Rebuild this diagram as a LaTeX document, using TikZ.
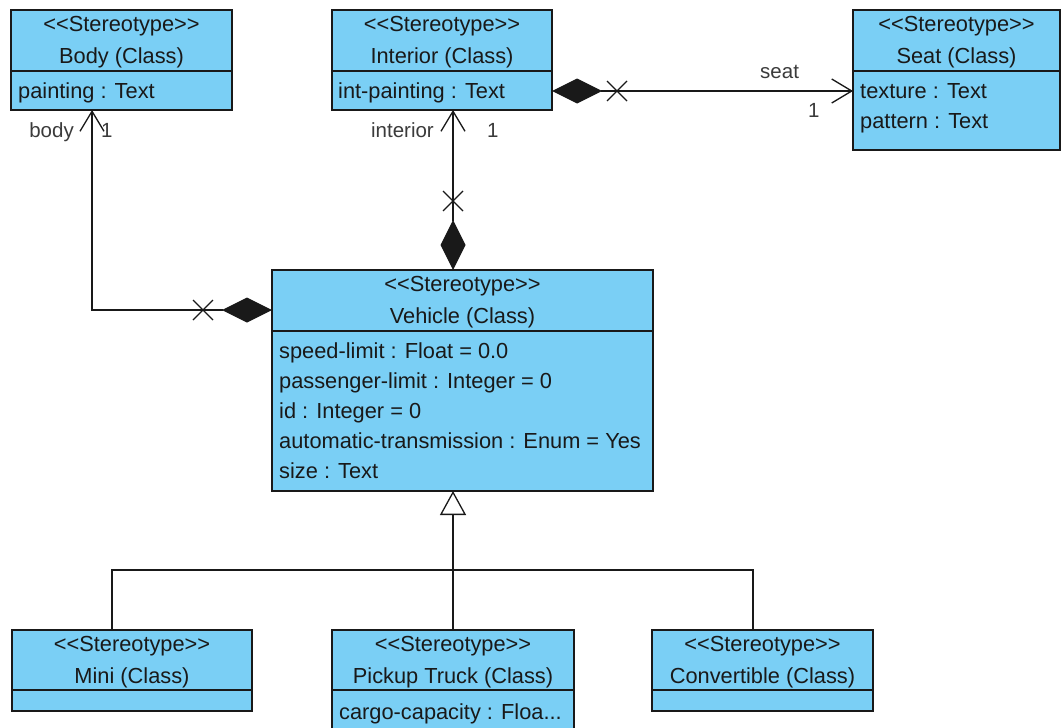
\documentclass[tikz,border=0pt]{standalone}
\usepackage{fontspec}
\setmainfont{Liberation Sans}
\usetikzlibrary{arrows.meta,calc}
\definecolor{cls}{RGB}{122,207,245}
\definecolor{ink}{RGB}{25,25,25}
\newcommand\stereo{<\kern0pt<Stereotype>\kern0pt>}
\begin{document}
\begin{tikzpicture}[x=1pt,y=-1pt,
 box/.style={draw=ink,fill=cls,line width=1.3pt,anchor=north west,inner sep=0pt,outer sep=0pt},
 txt/.style={font=\fontsize{21.8}{25}\selectfont,text=ink,inner sep=0pt,anchor=base},
 attr/.style={txt,anchor=base west},
 lbl/.style={font=\fontsize{20.5}{24}\selectfont,text=ink!85,inner sep=0pt},
 conn/.style={draw=ink,line width=1.3pt},
 comp/.style={conn,{Diamond[length=50pt,width=25pt]}-{Straight Barb[length=20pt,width=24pt]}},
 xmark/.style={draw=ink,line width=1.2pt}
]
\clip (0,0) rectangle (1061,728);
\fill[white] (0,0) rectangle (1061,728);

% boxes
\node[box,minimum width=221pt,minimum height=100pt] (body) at (11,10) {};
\draw[conn] ([yshift=-61pt]body.north west) -- ([yshift=-61pt]body.north east);
\node[box,minimum width=220pt,minimum height=100pt] (interior) at (332,10) {};
\draw[conn] ([yshift=-61pt]interior.north west) -- ([yshift=-61pt]interior.north east);
\node[box,minimum width=207pt,minimum height=140pt] (seat) at (853,10) {};
\draw[conn] ([yshift=-61pt]seat.north west) -- ([yshift=-61pt]seat.north east);
\node[box,minimum width=381pt,minimum height=221pt] (vehicle) at (272,270) {};
\draw[conn] ([yshift=-61pt]vehicle.north west) -- ([yshift=-61pt]vehicle.north east);
\node[box,minimum width=240pt,minimum height=81pt] (mini) at (12,630) {};
\draw[conn] ([yshift=-60pt]mini.north west) -- ([yshift=-60pt]mini.north east);
\node[box,minimum width=242pt,minimum height=110pt] (pickup) at (332,630) {};
\draw[conn] ([yshift=-60pt]pickup.north west) -- ([yshift=-60pt]pickup.north east);
\node[box,minimum width=221pt,minimum height=81pt] (conv) at (652,630) {};
\draw[conn] ([yshift=-60pt]conv.north west) -- ([yshift=-60pt]conv.north east);

% texts
\node[txt] (bodyst) at (121.5,31) {\stereo};
\node[txt] (bodyname) at (121.5,63) {Body (Class)};
\node[attr] (bodya1) at (18,98) {painting : Text};

\node[txt] (intst) at (442,31) {\stereo};
\node[txt] (intname) at (442,63) {Interior (Class)};
\node[attr] (inta1) at (338,98) {int-painting : Text};

\node[txt] (seatst) at (956.5,31) {\stereo};
\node[txt] (seatname) at (956.5,63) {Seat (Class)};
\node[attr] (seata1) at (860,98) {texture : Text};
\node[attr] (seata2) at (860,128) {pattern : Text};

\node[txt] (vst) at (462.5,291) {\stereo};
\node[txt] (vname) at (462.5,323) {Vehicle (Class)};
\node[attr] (va1) at (279,358) {speed-limit : Float = 0.0};
\node[attr] (va2) at (279,388) {passenger-limit : Integer = 0};
\node[attr] (va3) at (279,418) {id : Integer = 0};
\node[attr] (va4) at (279,448) {automatic-transmission : Enum = Yes};
\node[attr] (va5) at (279,478) {size : Text};

\node[txt] (minist) at (132,651) {\stereo};
\node[txt] (mininame) at (132,683) {Mini (Class)};
\node[txt] (pst) at (453,651) {\stereo};
\node[txt] (pname) at (453,683) {Pickup Truck (Class)};
\node[attr] (pa1) at (339,719) {cargo-capacity : Floa...};
\node[txt] (cst) at (762.5,651) {\stereo};
\node[txt] (cname) at (762.5,683) {Convertible (Class)};

% compositions
\draw[comp] ([yshift=-40pt]vehicle.north west) -| ([xshift=81pt]body.south west);
\draw[xmark] (193,300) -- (213,320) (193,320) -- (213,300);
\draw[comp] ([xshift=-9.5pt]vehicle.north) -- ([xshift=11pt]interior.south);
\draw[xmark] (443,191) -- (463,211) (443,211) -- (463,191);
\draw[comp] ([yshift=-31pt]interior.east) -- ([yshift=-11pt]seat.west);
\draw[xmark] (607,81) -- (627,101) (607,101) -- (627,81);

% role labels
\node[lbl,anchor=base east] (lbody) at (74,137) {body};
\node[lbl,anchor=base west] (lbody1) at (101,137) {1};
\node[lbl,anchor=base east] (lint) at (434,137) {interior};
\node[lbl,anchor=base west] (lint1) at (487,137) {1};
\node[lbl,anchor=base west] (lseat) at (760,78) {seat};
\node[lbl,anchor=base west] (lseat1) at (808,117) {1};

% generalization
\coordinate (bus) at (453,570);
\draw[conn] ([xshift=-20pt]mini.north) |- (bus) -| ([xshift=-9.5pt]conv.north);
\draw[conn] (pickup.north) -- (bus);
\draw[conn,-{Triangle[open,length=24pt,width=26pt,fill=white]}] (bus) -- ([xshift=-9.5pt]vehicle.south);
\end{tikzpicture}
\end{document}
